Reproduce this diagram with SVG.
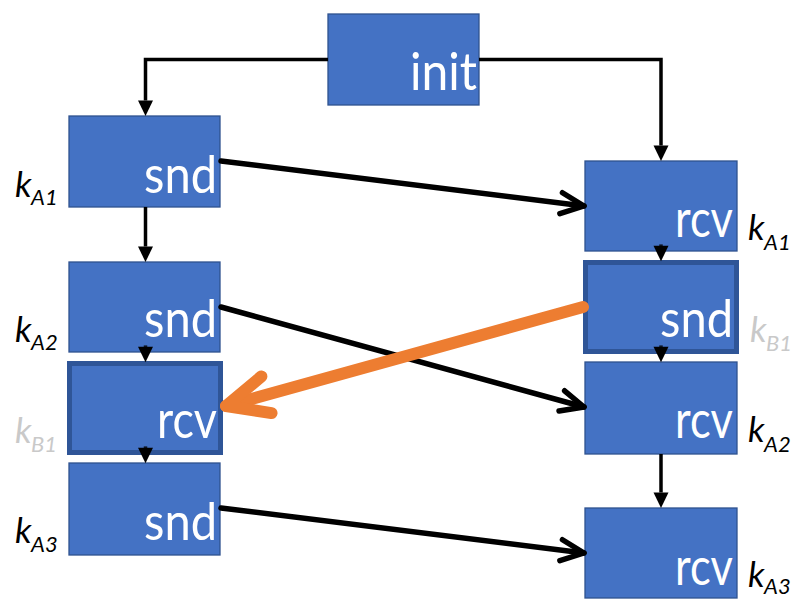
<svg xmlns="http://www.w3.org/2000/svg" width="794" height="599" viewBox="0 0 794 599">
  <style>
    .box { fill: #4472C4; stroke: #2F528F; stroke-width: 1.3; }
    .box.hl { stroke: #2F5597; stroke-width: 5; }
    .op { font-family: Lato, "Open Sans", sans-serif; font-size: 52px; fill: #FFFFFF; text-anchor: end; }
    .k { font-family: Lato, "Open Sans", sans-serif; font-style: italic; fill: #000000; }
    .k .b { font-size: 35px; }
    .k .s { font-size: 22px; }
    .k.grey { fill: #C9C9C9; }
    .flow { fill: none; stroke: #000000; stroke-width: 3.5; }
    .msg { fill: none; stroke: #000000; stroke-width: 5.5; stroke-linecap: round; }
    .cross { fill: none; stroke: #ED7D31; stroke-width: 12; stroke-linecap: round; }
  </style>
  <defs>
    <marker id="tri" markerUnits="userSpaceOnUse" orient="auto" refX="0" refY="0" markerWidth="16" markerHeight="16" overflow="visible">
      <path d="M0,-7.5 L15.5,0 L0,7.5 Z" fill="#000000"/>
    </marker>
    <marker id="open" markerUnits="userSpaceOnUse" orient="auto" refX="0" refY="0" markerWidth="30" markerHeight="30" overflow="visible">
      <path d="M-23,-10.5 L0,0 L-23,10.5" fill="none" stroke="#000000" stroke-width="5.5" stroke-linecap="round" stroke-linejoin="round"/>
    </marker>
    <marker id="openOrange" markerUnits="userSpaceOnUse" orient="auto" refX="0" refY="0" markerWidth="60" markerHeight="60" overflow="visible">
      <path d="M-42,-19 L0,0 L-42,19" fill="none" stroke="#ED7D31" stroke-width="12" stroke-linecap="round" stroke-linejoin="round"/>
    </marker>
  </defs>

  <!-- process A: left column -->
  <g id="init">
    <rect class="box" x="328" y="14" width="151" height="91"/>
    <text class="op" x="477" y="90" textLength="67" lengthAdjust="spacingAndGlyphs">init</text>
  </g>
  <g id="a-snd1">
    <rect class="box" x="69" y="116" width="151" height="91"/>
    <text class="op" x="217" y="193" textLength="73" lengthAdjust="spacingAndGlyphs">snd</text>
    <text class="k"><tspan class="b" x="15" y="197">k</tspan><tspan class="s" x="31" y="205">A1</tspan></text>
  </g>
  <g id="a-snd2">
    <rect class="box" x="69" y="262" width="151" height="90"/>
    <text class="op" x="217" y="337" textLength="73" lengthAdjust="spacingAndGlyphs">snd</text>
    <text class="k"><tspan class="b" x="15" y="342">k</tspan><tspan class="s" x="31" y="350">A2</tspan></text>
  </g>
  <g id="a-rcv1">
    <rect class="box hl" x="69.5" y="363.5" width="151" height="89"/>
    <text class="op" x="217" y="438" textLength="60" lengthAdjust="spacingAndGlyphs">rcv</text>
    <text class="k grey"><tspan class="b" x="15" y="443">k</tspan><tspan class="s" x="31" y="452">B1</tspan></text>
  </g>
  <g id="a-snd3">
    <rect class="box" x="69" y="463" width="151" height="92"/>
    <text class="op" x="217" y="540" textLength="73" lengthAdjust="spacingAndGlyphs">snd</text>
    <text class="k"><tspan class="b" x="15" y="543">k</tspan><tspan class="s" x="31" y="552">A3</tspan></text>
  </g>

  <!-- process B: right column -->
  <g id="b-rcv1">
    <rect class="box" x="585" y="161" width="152" height="90"/>
    <text class="op" x="733" y="237" textLength="58" lengthAdjust="spacingAndGlyphs">rcv</text>
    <text class="k"><tspan class="b" x="748" y="240">k</tspan><tspan class="s" x="764" y="250">A1</tspan></text>
  </g>
  <g id="b-snd1">
    <rect class="box hl" x="585.5" y="262.5" width="151" height="89"/>
    <text class="op" x="733" y="337" textLength="73" lengthAdjust="spacingAndGlyphs">snd</text>
    <text class="k grey"><tspan class="b" x="750" y="342">k</tspan><tspan class="s" x="766" y="351">B1</tspan></text>
  </g>
  <g id="b-rcv2">
    <rect class="box" x="585" y="362" width="152" height="92"/>
    <text class="op" x="733" y="438" textLength="58" lengthAdjust="spacingAndGlyphs">rcv</text>
    <text class="k"><tspan class="b" x="748" y="442">k</tspan><tspan class="s" x="764" y="452">A2</tspan></text>
  </g>
  <g id="b-rcv3">
    <rect class="box" x="585" y="508" width="152" height="90"/>
    <text class="op" x="733" y="585" textLength="58" lengthAdjust="spacingAndGlyphs">rcv</text>
    <text class="k"><tspan class="b" x="748" y="587">k</tspan><tspan class="s" x="764" y="594">A3</tspan></text>
  </g>

  <g id="connectors">
    <!-- program order -->
    <path class="flow" d="M328,59.5 H145.5 V100.5" marker-end="url(#tri)"/>
    <path class="flow" d="M479,59.5 H661 V145.5" marker-end="url(#tri)"/>
    <path class="flow" d="M145.5,207 V246.5" marker-end="url(#tri)"/>
    <path class="flow" d="M145.5,345.5 V346.8" marker-end="url(#tri)"/>
    <path class="flow" d="M145.5,446.5 V447.8" marker-end="url(#tri)"/>
    <path class="flow" d="M661,244.5 V245.8" marker-end="url(#tri)"/>
    <path class="flow" d="M661,345.5 V346.8" marker-end="url(#tri)"/>
    <path class="flow" d="M661,454 V492.5" marker-end="url(#tri)"/>
    <!-- messages -->
    <path class="msg" d="M221,161 L584,206" marker-end="url(#open)"/>
    <path class="msg" d="M221,307 L584,407" marker-end="url(#open)"/>
    <path class="msg" d="M221,508 L584,553" marker-end="url(#open)"/>
    <path class="cross" d="M583,307 L226,406" marker-end="url(#openOrange)"/>
  </g>
</svg>
